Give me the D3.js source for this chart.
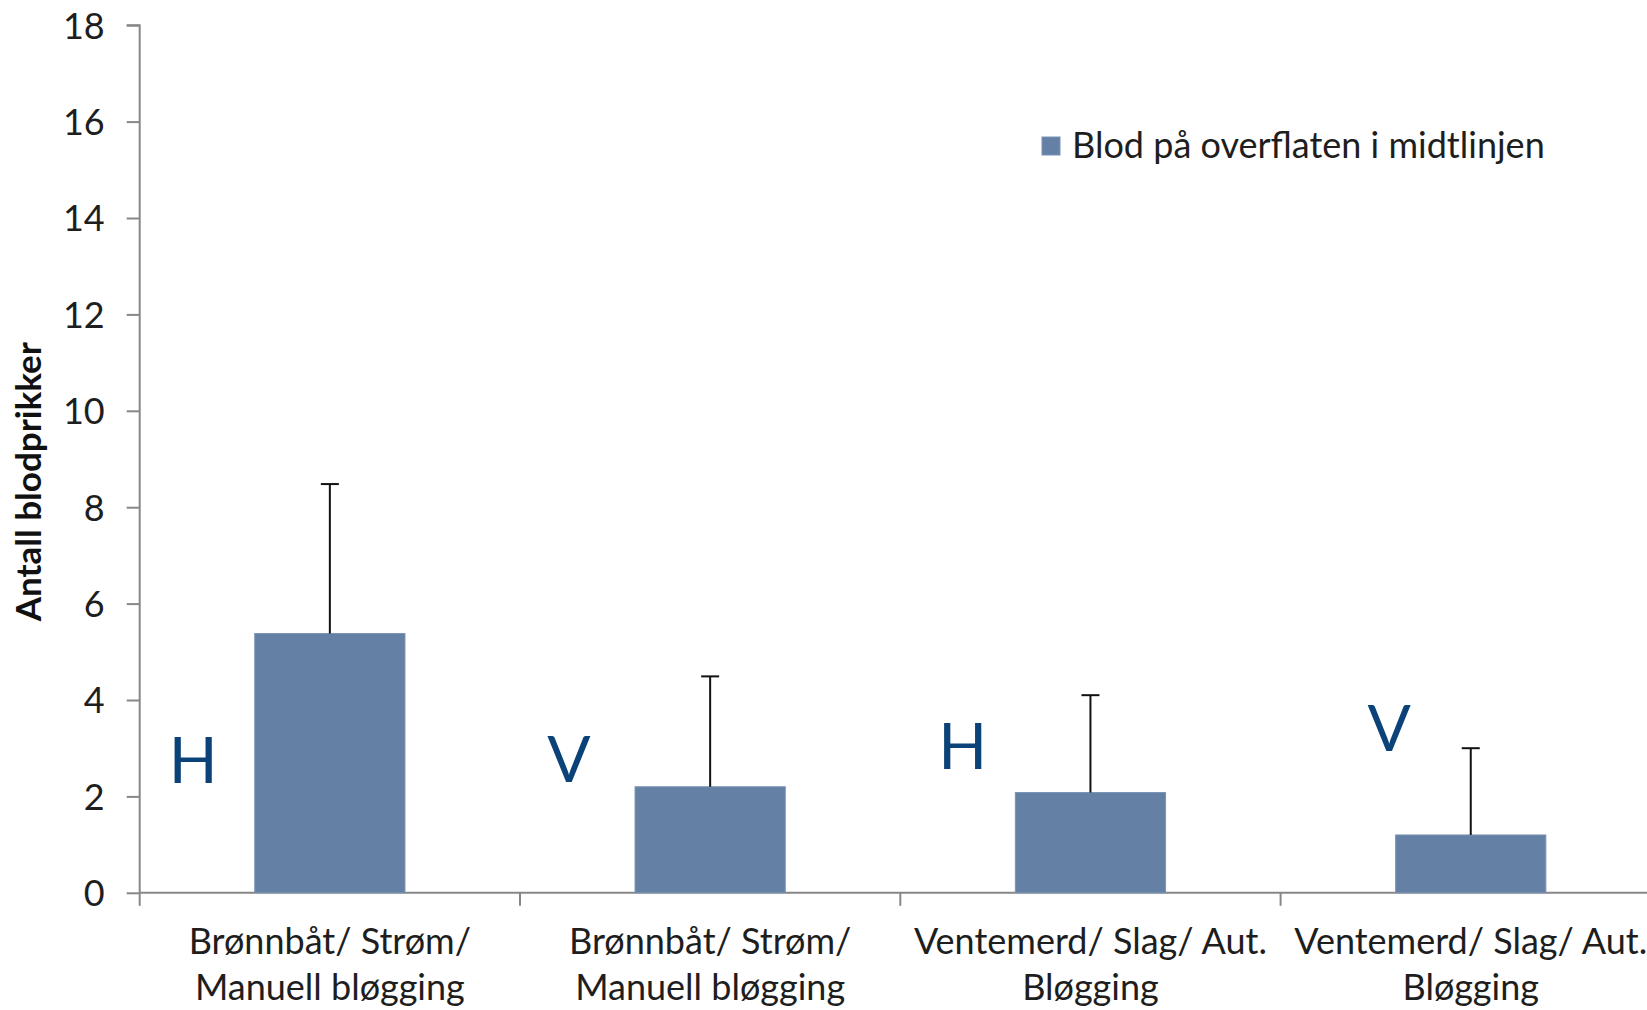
<!DOCTYPE html>
<html>
<head>
<meta charset="utf-8">
<script src="https://cdn.jsdelivr.net/npm/d3@7"></script>
<style>
  html, body { margin: 0; padding: 0; background: #ffffff; }
  svg { display: block; }
</style>
</head>
<body>
<svg id="chart" width="1647" height="1010"></svg>
<script>
// ---- data ----
const categoryLines = [
  ["Brønnbåt/ Strøm/", "Manuell bløgging"],
  ["Brønnbåt/ Strøm/", "Manuell bløgging"],
  ["Ventemerd/ Slag/ Aut.", "Bløgging"],
  ["Ventemerd/ Slag/ Aut.", "Bløgging"]
];
const values = [5.38, 2.2, 2.08, 1.2];
const errorsUpper = [3.1, 2.29, 2.02, 1.8];
const seriesName = "Blod på overflaten i midtlinjen";
const yTicks = [0, 2, 4, 6, 8, 10, 12, 14, 16, 18];
const yTitle = "Antall blodprikker";
const annotLetters = ["H", "V", "H", "V"];
const annotValue = [2.28, 2.29, 2.57, 2.94];   // baseline level, in data units
const annotBandFrac = [0.087, 0.082, 0.11, 0.239]; // left edge, fraction of band step

// ---- layout ----
const svg = d3.select("#chart");
const x0 = 139.7, step = 380.3;
const yBottom = 892.8, yTop = 25.2;
const FONT = "Lato, 'Open Sans', sans-serif";
const textColor = "#1e1e1e";
const axisColor = "#878787";
const barColor = "#6580a5";
const letterColor = "#0b4379";
const FS = 36;

const idx = d3.range(categoryLines.length);
const x = d3.scaleBand().domain(idx).range([x0, x0 + step * idx.length])
  .paddingInner(0.605).paddingOuter(0.3025);
const y = d3.scaleLinear().domain([0, 18]).range([yBottom, yTop]);

// y axis
const yAxis = d3.axisLeft(y).tickValues(yTicks).tickSize(13).tickPadding(22).tickFormat(d3.format("d"));
const gy = svg.append("g").attr("transform", `translate(${x0},0)`).call(yAxis);
gy.select(".domain").attr("stroke", axisColor).attr("stroke-width", 2)
  .attr("d", `M-13,${y(18)}H0V${y(0)}`);
gy.selectAll(".tick line").attr("stroke", axisColor).attr("stroke-width", 2);
gy.selectAll(".tick text").attr("font-family", FONT).attr("font-size", FS)
  .attr("fill", textColor).attr("dy", "0.36em");

// x axis
const boundaries = d3.range(idx.length + 1).map(i => x0 + i * step);
const gx = svg.append("g");
gx.append("line").attr("x1", x0).attr("x2", x0 + step * idx.length)
  .attr("y1", y(0)).attr("y2", y(0)).attr("stroke", axisColor).attr("stroke-width", 2);
gx.selectAll("line.xt").data(boundaries).join("line").attr("class", "xt")
  .attr("x1", d => d).attr("x2", d => d).attr("y1", y(0)).attr("y2", y(0) + 13)
  .attr("stroke", axisColor).attr("stroke-width", 2);

// x labels
const lbl = svg.append("g").selectAll("text").data(idx).join("text")
  .attr("font-family", FONT).attr("font-size", FS).attr("fill", textColor)
  .attr("text-anchor", "middle");
lbl.each(function (i) {
  const t = d3.select(this);
  categoryLines[i].forEach((line, k) => {
    t.append("tspan").attr("x", x(i) + x.bandwidth() / 2).attr("y", 954 + k * 46).text(line);
  });
});

// bars
svg.append("g").selectAll("rect").data(idx).join("rect")
  .attr("x", i => x(i)).attr("width", x.bandwidth())
  .attr("y", i => y(values[i])).attr("height", i => y(0) - y(values[i]))
  .attr("fill", barColor).attr("stroke", "#7b93b5").attr("stroke-width", 1);

// error bars (upper only)
const eg = svg.append("g").attr("stroke", "#111").attr("stroke-width", 2);
eg.selectAll("line.v").data(idx).join("line").attr("class", "v")
  .attr("x1", i => x(i) + x.bandwidth() / 2).attr("x2", i => x(i) + x.bandwidth() / 2)
  .attr("y1", i => y(values[i])).attr("y2", i => y(values[i] + errorsUpper[i]));
eg.selectAll("line.c").data(idx).join("line").attr("class", "c")
  .attr("x1", i => x(i) + x.bandwidth() / 2 - 9).attr("x2", i => x(i) + x.bandwidth() / 2 + 9)
  .attr("y1", i => y(values[i] + errorsUpper[i])).attr("y2", i => y(values[i] + errorsUpper[i]));

// H / V annotations
svg.append("g").selectAll("text").data(idx).join("text")
  .attr("x", i => x0 + i * step + annotBandFrac[i] * step - 4)
  .attr("y", i => y(annotValue[i]))
  .attr("font-family", FONT).attr("font-size", 64).attr("fill", letterColor)
  .text(i => annotLetters[i]);

// legend
const lg = svg.append("g");
lg.append("rect").attr("x", 1042).attr("y", 137).attr("width", 18).attr("height", 18)
  .attr("fill", barColor).attr("stroke", "#7b93b5").attr("stroke-width", 1);
lg.append("text").attr("x", 1072).attr("y", 157.5)
  .attr("font-family", FONT).attr("font-size", FS).attr("fill", textColor)
  .text(seriesName);

// y title
svg.append("text")
  .attr("transform", `translate(41,${481.7}) rotate(-90)`)
  .attr("text-anchor", "middle")
  .attr("font-family", FONT).attr("font-size", 35).attr("font-weight", 700)
  .attr("fill", "#111").text(yTitle);
</script>
</body>
</html>
